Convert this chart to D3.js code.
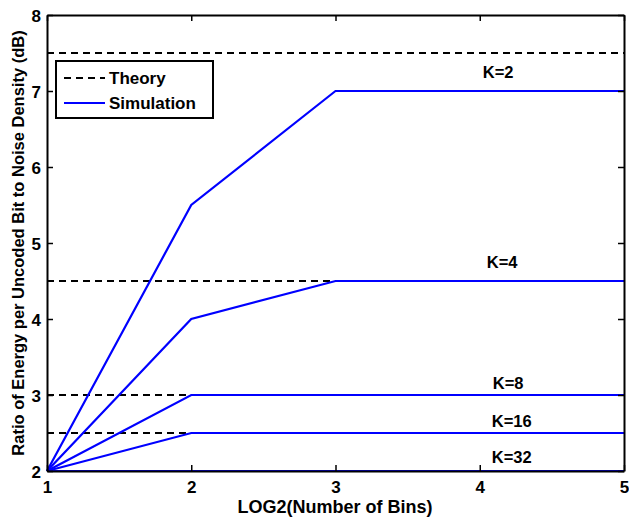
<!DOCTYPE html>
<html>
<head>
<meta charset="utf-8">
<script src="https://cdn.jsdelivr.net/npm/d3@7"></script>
<style>
  body { margin: 0; background: #fff; }
  text { font-family: "Liberation Sans", Arial, Helvetica, sans-serif; font-weight: bold; }
</style>
</head>
<body>
<svg id="chart" width="629" height="521"></svg>
<script>
// Number of bins (log2) on the horizontal axis
const bins = [1, 2, 3, 4, 5];
const kLabels = ["K=2", "K=4", "K=8", "K=16", "K=32"];
// Theoretical limit per K (dB)
const theory = [7.5, 4.5, 3, 2.5, 2];
// Simulated Eb/N0 per K across bins (dB)
const simK2 = [2, 5.5, 7, 7, 7];
const simK4 = [2, 4, 4.5, 4.5, 4.5];
const simK8 = [2, 3, 3, 3, 3];
const simK16 = [2, 2.5, 2.5, 2.5, 2.5];
const simK32 = [2, 2, 2, 2, 2];
const simulation = [simK2, simK4, simK8, simK16, simK32];
const xTicks = [1, 2, 3, 4, 5];
const yTicks = [2, 3, 4, 5, 6, 7, 8];

const svg = d3.select("#chart");
const m = { left: 47, top: 15, right: 5, bottom: 50 };
const W = 629, H = 521;
const x = d3.scaleLinear().domain([1, 5]).range([m.left, W - m.right]);
const y = d3.scaleLinear().domain([2, 8]).range([H - m.bottom, m.top]);

// Theory: dashed black horizontal lines
svg.append("g").selectAll("line").data(theory).join("line")
  .attr("x1", x(1)).attr("x2", x(5))
  .attr("y1", d => y(d)).attr("y2", d => y(d))
  .attr("stroke", "#000").attr("stroke-width", 2)
  .attr("stroke-dasharray", "7,5");

// Simulation: solid blue polylines
const line = d3.line().x((d, i) => x(bins[i])).y(d => y(d));
svg.append("g").selectAll("path").data(simulation).join("path")
  .attr("d", line).attr("fill", "none")
  .attr("stroke", "#0000ff").attr("stroke-width", 2.2);

// Axes box with inward ticks
const tl = 6;
const axB = svg.append("g").attr("transform", `translate(0,${y(2)})`)
  .call(d3.axisBottom(x).tickValues(xTicks).tickFormat(d3.format("d")).tickSizeInner(-tl).tickSizeOuter(0));
const axT = svg.append("g").attr("transform", `translate(0,${y(8)})`)
  .call(d3.axisTop(x).tickValues(xTicks).tickFormat("").tickSizeInner(-tl).tickSizeOuter(0));
const axL = svg.append("g").attr("transform", `translate(${x(1)},0)`)
  .call(d3.axisLeft(y).tickValues(yTicks).tickFormat(d3.format("d")).tickSizeInner(-tl).tickSizeOuter(0));
const axR = svg.append("g").attr("transform", `translate(${x(5)},0)`)
  .call(d3.axisRight(y).tickValues(yTicks).tickFormat("").tickSizeInner(-tl).tickSizeOuter(0));
[axB, axT, axL, axR].forEach(a => {
  a.select(".domain").attr("stroke", "#000").attr("stroke-width", 2);
  a.selectAll(".tick line").attr("stroke", "#000").attr("stroke-width", 1.5);
  a.selectAll(".tick text").attr("fill", "#000").style("font-size", "17px")
    .style("font-family", '"Liberation Sans", Arial, sans-serif').style("font-weight", "bold");
});
axB.selectAll(".tick text").attr("dy", null).attr("y", 22);
axL.selectAll(".tick text").attr("x", -6).attr("dy", "0.36em");

// Curve labels, placed just past x = 4 beside each theory level
const labelDx = [3, 7, 13, 12, 12];
const labelDy = [25, -13, -6, -6, -8];
svg.append("g").selectAll("text").data(kLabels).join("text")
  .attr("x", (d, i) => x(4) + labelDx[i])
  .attr("y", (d, i) => y(theory[i]) + labelDy[i])
  .attr("text-anchor", "start").style("font-size", "16.5px")
  .text(d => d);

// Axis titles
svg.append("text").attr("x", 335).attr("y", 513)
  .attr("text-anchor", "middle").style("font-size", "18px")
  .text("LOG2(Number of Bins)");
svg.append("text")
  .attr("transform", `translate(24,${(y(2) + y(8)) / 2}) rotate(-90)`)
  .attr("text-anchor", "middle").style("font-size", "16.5px")
  .text("Ratio of Energy per Uncoded Bit to Noise Density (dB)");

// Legend
const lg = svg.append("g");
lg.append("rect").attr("x", 56).attr("y", 61).attr("width", 157).attr("height", 57)
  .attr("fill", "#fff").attr("stroke", "#000").attr("stroke-width", 2);
lg.append("line").attr("x1", 64).attr("x2", 105).attr("y1", 78).attr("y2", 78)
  .attr("stroke", "#000").attr("stroke-width", 2).attr("stroke-dasharray", "7,5");
lg.append("line").attr("x1", 64).attr("x2", 105).attr("y1", 103).attr("y2", 103)
  .attr("stroke", "#0000ff").attr("stroke-width", 2.2);
lg.append("text").attr("x", 109).attr("y", 84).style("font-size", "17px").text("Theory");
lg.append("text").attr("x", 109).attr("y", 109).style("font-size", "17px").text("Simulation");
</script>
</body>
</html>
